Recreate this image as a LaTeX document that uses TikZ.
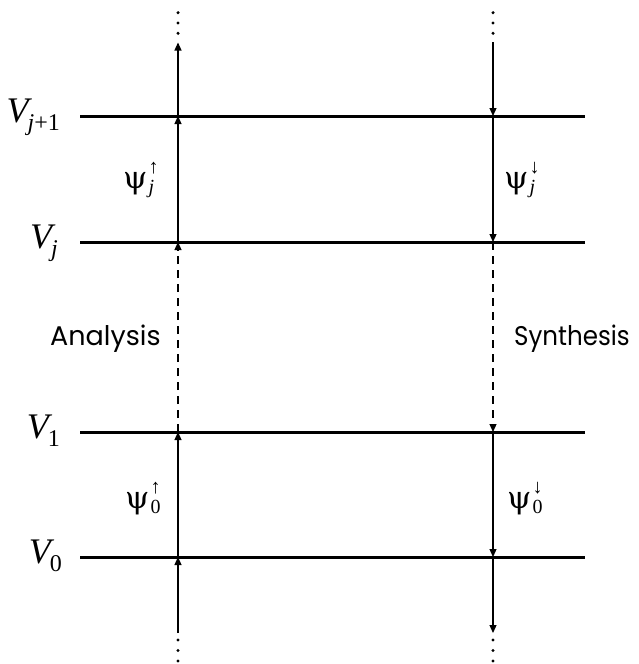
\documentclass[tikz,border=0pt]{standalone}
\usepackage{fontspec}
\setmainfont{Liberation Serif}
\newfontfamily\gothic{Poppins}
\newfontfamily\psifont{DejaVu Serif}
\usetikzlibrary{arrows.meta}
\newcommand\subsz{\fontsize{24}{24}\selectfont}
\newcommand\Vlab[1]{{\fontsize{36}{36}\selectfont\itshape V\kern-1pt\raisebox{-8pt}{\subsz #1}}}
\newcommand\Psilab[2]{{{\psifont\fontsize{31}{31}\selectfont ψ}\kern1pt\rlap{\raisebox{15pt}{\fontsize{20}{20}\selectfont #2}}\raisebox{-5pt}{\fontsize{20}{20}\selectfont #1}}}
\begin{document}
\begin{tikzpicture}[x=1pt,y=-1pt,
  level/.style={line width=3pt},
  flow/.style={line width=1.2pt,-{Triangle[length=8pt,width=7pt]}},
  dflow/.style={flow,dash pattern=on 8pt off 6pt},
  lab/.style={inner sep=0pt,anchor=base east},
  plab/.style={inner sep=0pt,anchor=base west},
  word/.style={inner sep=0pt,anchor=base west,font=\gothic\fontsize{27}{27}\selectfont},
  dot/.style={circle,fill,inner sep=0pt,minimum size=3.4pt}]
\useasboundingbox (0,0) rectangle (639,664);
\foreach \n/\y in {J1/116,J/242,One/432,Zero/557}{
  \coordinate (L\n) at (80,\y);
  \coordinate (R\n) at (585,\y);
  \coordinate (a\n) at (178,\y);
  \coordinate (s\n) at (493,\y);
}
\coordinate (atop) at (178,42.5);
\coordinate (abot) at (178,633);
\coordinate (stop) at (493,42);
\coordinate (sbot) at (493,633);
% levels
\draw[level] (LJ1) -- (RJ1);
\draw[level] (LJ) -- (RJ);
\draw[level] (LOne) -- (ROne);
\draw[level] (LZero) -- (RZero);
% analysis flow
\draw[flow] (abot) -- (aZero);
\draw[flow] (aZero) -- (aOne);
\draw[dflow] (aOne) -- (aJ);
\draw[flow] (aJ) -- (aJ1);
\draw[flow] (aJ1) -- (atop);
% synthesis flow
\draw[flow] (stop) -- (sJ1);
\draw[flow] (sJ1) -- (sJ);
\draw[dflow] (sJ) -- (sOne);
\draw[flow] (sOne) -- (sZero);
\draw[flow] (sZero) -- (sbot);
% dots
\node[dot] (ad1) at (178,12.7) {};
\node[dot] (ad2) at (178,23) {};
\node[dot] (ad3) at (178,33.3) {};
\node[dot] (sd1) at (493,12.7) {};
\node[dot] (sd2) at (493,23) {};
\node[dot] (sd3) at (493,33.3) {};
\node[dot] (ad4) at (178,640) {};
\node[dot] (ad5) at (178,650.5) {};
\node[dot] (ad6) at (178,661) {};
\node[dot] (sd4) at (493,640) {};
\node[dot] (sd5) at (493,650.5) {};
\node[dot] (sd6) at (493,661) {};
% V labels
\node[lab] (vJ1) at (60,122) {\Vlab{j\upshape +1}};
\node[lab] (vJ) at (58,248) {\Vlab{j}};
\node[lab] (vOne) at (60,438) {\Vlab{\upshape 1}};
\node[lab] (vZero) at (62,563) {\Vlab{\upshape 0}};
% psi labels
\node[plab] (pju) at (123,188) {\Psilab{\itshape j}{↑}};
\node[plab] (pjd) at (504,188) {\Psilab{\itshape j}{↓}};
\node[plab] (p0u) at (125,508) {\Psilab{0}{↑}};
\node[plab] (p0d) at (507,508) {\Psilab{0}{↓}};
% words
\node[word] (ana) at (50,345) {Analysis};
\node[word] (syn) at (514,345) {\scalebox{0.91}[1]{Synthesis}};
\end{tikzpicture}
\end{document}
